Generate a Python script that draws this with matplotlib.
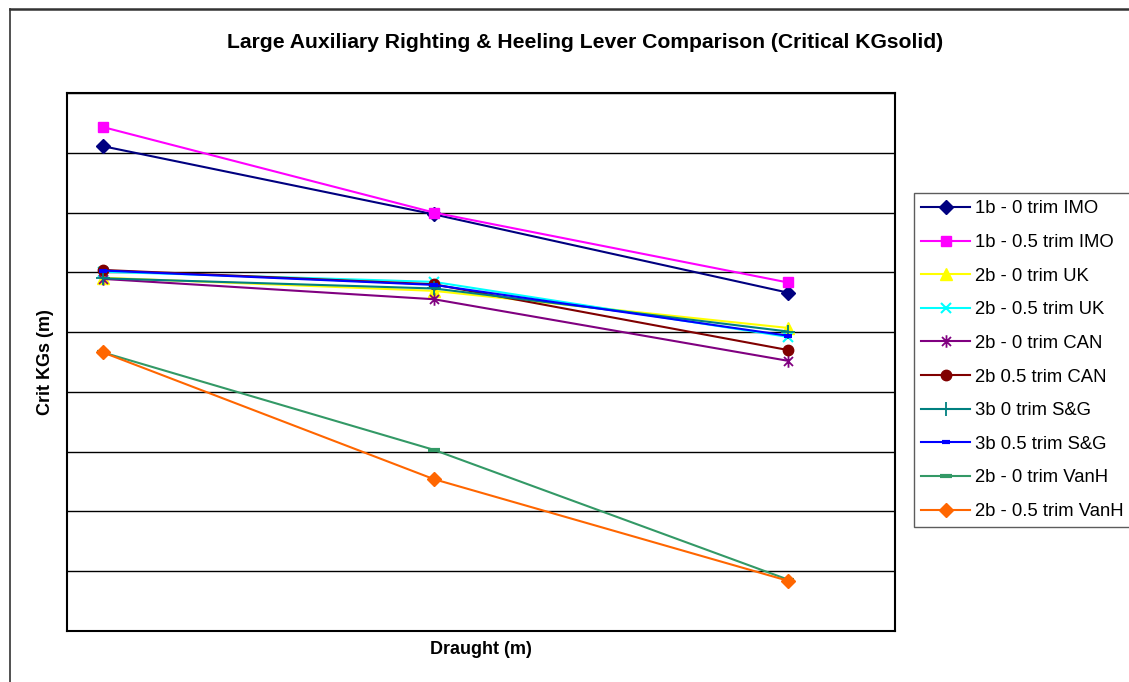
import matplotlib.pyplot as plt
from matplotlib.path import Path
from matplotlib.lines import Line2D

plt.rcParams['font.family'] = ['Liberation Sans', 'DejaVu Sans']

# Draught values (no tick labels shown on the chart)
draught = [3.0, 4.0, 5.07]

labels = [
    '1b - 0 trim IMO',
    '1b - 0.5 trim IMO',
    '2b - 0 trim UK',
    '2b - 0.5 trim UK',
    '2b - 0 trim CAN',
    '2b 0.5 trim CAN',
    '3b 0 trim S&G',
    '3b 0.5 trim S&G',
    '2b - 0 trim VanH',
    '2b - 0.5 trim VanH',
]

imo_0 = [8.11, 6.97, 5.66]
imo_05 = [8.43, 7.00, 5.83]
uk_0 = [5.91, 5.69, 5.07]
uk_05 = [6.01, 5.84, 4.92]
can_0 = [5.89, 5.55, 4.52]
can_05 = [6.04, 5.80, 4.70]
sg_0 = [5.90, 5.73, 5.01]
sg_05 = [6.03, 5.79, 4.94]
vanh_0 = [4.66, 3.03, 0.86]
vanh_05 = [4.66, 2.54, 0.84]

series = [imo_0, imo_05, uk_0, uk_05, can_0, can_05, sg_0, sg_05, vanh_0, vanh_05]

# Excel style asterisk: an "x" with a vertical bar through it
asterisk = Path(
    [(0, -1), (0, 1), (-0.72, -0.72), (0.72, 0.72), (-0.72, 0.72), (0.72, -0.72)],
    [Path.MOVETO, Path.LINETO, Path.MOVETO, Path.LINETO, Path.MOVETO, Path.LINETO],
)

styles = [
    dict(color='#000080', marker='D', ms=7),
    dict(color='#FF00FF', marker='s', ms=7),
    dict(color='#FFFF00', marker='^', ms=8.5),
    dict(color='#00FFFF', marker='x', ms=7.5, mew=1.5),
    dict(color='#800080', marker=asterisk, ms=9, mew=1.3),
    dict(color='#800000', marker='o', ms=7.5),
    dict(color='#008080', marker='+', ms=10, mew=1.3),
    dict(color='#0000FF', marker='_', ms=6, mew=3),
    dict(color='#339966', marker='_', ms=9, mew=3),
    dict(color='#FF6600', marker='D', ms=7),
]

fig = plt.figure(figsize=(11.29, 6.82), dpi=100)
W, H = 1129, 682
ax = fig.add_axes([67 / W, 1 - 631 / H, 828 / W, 538 / H])

for lab, vals, st in zip(labels, series, styles):
    ax.plot(draught, vals, lw=1.5, label=lab, **st)

ax.set_xlim(draught[0] - 36 / 331, draught[-1] + 107 / 331)
ax.set_ylim(0, 9)
ax.set_yticks(range(10))
ax.set_xticks([])
ax.yaxis.grid(True, color='black', lw=1)
ax.tick_params(left=False, labelleft=False)
for sp in ax.spines.values():
    sp.set_linewidth(1.5)
    sp.set_color('black')

fig.text(45 / W, 1 - 362 / H, 'Crit KGs (m)', rotation=90, fontsize=13,
         fontweight='bold', ha='center', va='center')
fig.text(481 / W, 1 - 649 / H, 'Draught (m)', fontsize=13,
         fontweight='bold', ha='center', va='center')
fig.text(585 / W, 1 - 43 / H,
         'Large Auxiliary Righting & Heeling Lever Comparison (Critical KGsolid)',
         fontsize=15.2, fontweight='bold', ha='center', va='center')

leg = fig.legend(loc='upper left', bbox_to_anchor=(914 / W, 1 - 193 / H),
                 borderaxespad=0, fontsize=13.3, frameon=True, fancybox=False,
                 edgecolor='#333333', handlelength=2.65, handletextpad=0.25,
                 borderpad=0.4, labelspacing=0.9)
leg.get_frame().set_linewidth(1)

# Chart area border
fig.add_artist(Line2D([9.5 / W, 9.5 / W], [0, 1 - 9 / H], color='#333333', lw=1.2))
fig.add_artist(Line2D([9.5 / W, 1], [1 - 9 / H, 1 - 9 / H], color='#333333', lw=1.8))

fig.savefig('out.png', dpi=100)
